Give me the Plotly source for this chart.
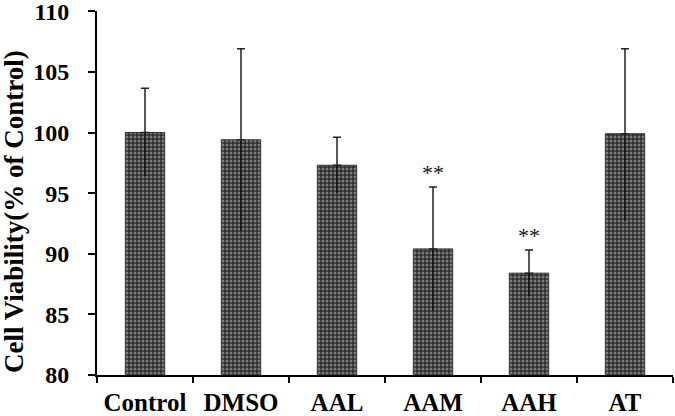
import plotly.graph_objects as go

categories = ["Control", "DMSO", "AAL", "AAM", "AAH", "AT"]
means = [100.0, 99.4, 97.3, 90.4, 88.4, 99.9]
err_up = [3.65, 7.5, 2.3, 5.1, 1.9, 7.0]
err_down = [3.6, 7.5, 2.3, 5.1, 1.9, 7.2]
stars = ["", "", "", "**", "**", ""]
y_title = "Cell Viability(% of Control)"

font_family = "Liberation Serif"

fig = go.Figure()
fig.add_trace(go.Bar(
    x=categories, y=means, width=0.41,
    marker=dict(
        color="#555555",
        line=dict(color="#333333", width=1),
        pattern=dict(shape=".", fgcolor="#c8c8c8", bgcolor="#2e2e2e", size=4, solidity=0.45),
    ),
    error_y=dict(type="data", array=[0]*len(means), arrayminus=err_down, symmetric=False,
                 color="#111111", thickness=1.5, width=0),
    showlegend=False,
))
fig.add_trace(go.Scatter(
    x=categories, y=means, mode="markers", marker=dict(size=1, color="rgba(0,0,0,0)"),
    error_y=dict(type="data", array=err_up, arrayminus=[0]*len(means), symmetric=False,
                 color="#222222", thickness=1.5, width=4),
    showlegend=False, hoverinfo="skip",
))
for c, m, u, s in zip(categories, means, err_up, stars):
    if s:
        fig.add_annotation(x=c, y=m + u, text=s, showarrow=False, yanchor="bottom", yshift=0,
                           font=dict(family=font_family, size=22, color="#111111"))

fig.add_annotation(xref="paper", yref="paper", x=-0.144, y=0.448, text="<b>" + y_title + "</b>",
                   textangle=-90, showarrow=False, xanchor="center", yanchor="middle",
                   font=dict(family=font_family, size=27, color="black"))

fig.update_layout(
    width=675, height=416,
    margin=dict(l=97, r=2, t=11, b=41, autoexpand=False),
    paper_bgcolor="white", plot_bgcolor="white",
    font=dict(family=font_family, color="black"),
    bargap=0.59,
)
fig.update_yaxes(
    range=[80, 110.02], tickvals=[80, 85, 90, 95, 100, 105, 110], showgrid=False, zeroline=False,
    showline=True, linecolor="black", linewidth=2, ticklabeloverflow="allow",
    ticks="outside", ticklen=7, tickwidth=2, tickcolor="black", ticklabelstandoff=14,
    tickfont=dict(family=font_family, size=24, color="black", weight="bold"),
)
fig.update_xaxes(
    showgrid=False, showline=True, linecolor="black", linewidth=2,
    ticks="outside", ticklen=6, tickwidth=2, tickcolor="black", tickson="boundaries",
    ticklabelstandoff=4, ticklabeloverflow="allow",
    tickfont=dict(family=font_family, size=25, color="black", weight="bold"),
)
fig.write_html("out.html", config={"displayModeBar": False},
               post_script="document.body.style.margin='0px';document.body.style.padding='0px';")
